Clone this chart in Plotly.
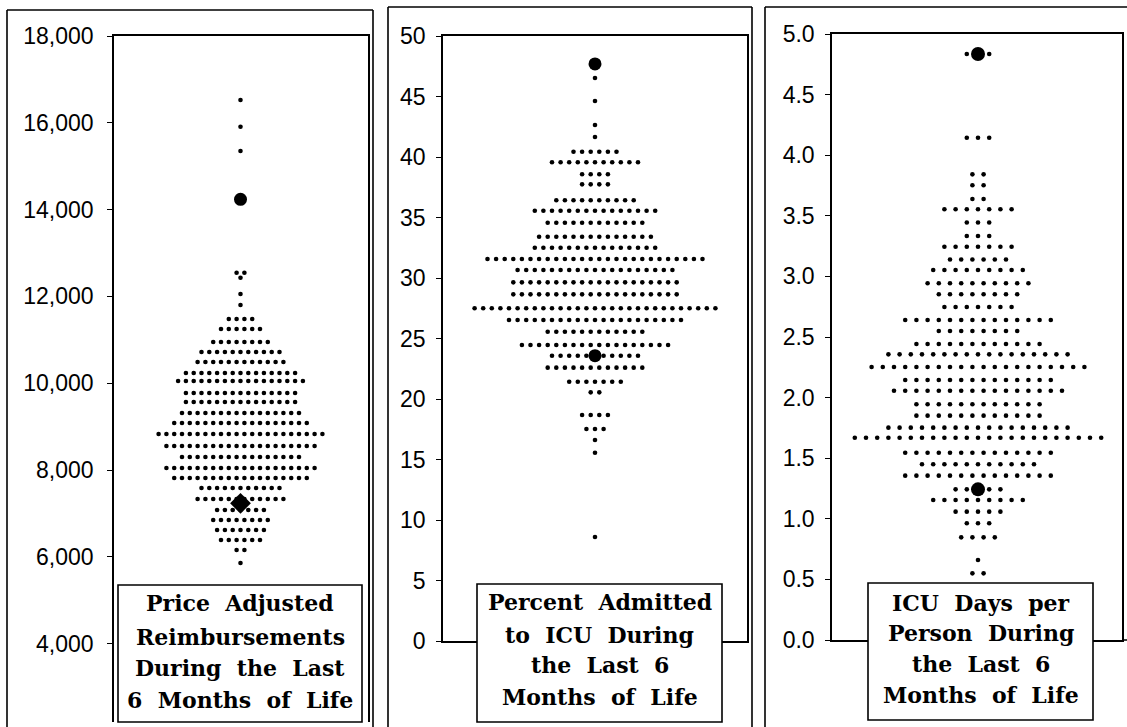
import plotly.graph_objects as go

# ---------------- data ----------------
# Panel 1: Price adjusted reimbursements (rows of dots: value, number of dots)
p1_values = [16525, 15910, 15350, 12546, 12431, 12055, 11802, 11480, 11249, 10950,
             10719, 10489, 10236, 10051, 9775, 9567, 9314, 9084, 8830, 8554,
             8300, 8047, 7817, 7586, 7333, 7079, 6849, 6619, 6388, 6158, 5858]
p1_counts = [1, 1, 1, 2, 1, 1, 1, 4, 6, 8,
             11, 12, 15, 17, 15, 15, 16, 18, 22, 20,
             16, 20, 18, 11, 12, 7, 8, 7, 6, 2, 1]
p1_big_circle = [14237]
p1_big_diamond = [7233]
p1_ticks = [4000, 6000, 8000, 10000, 12000, 14000, 16000, 18000]

# Panel 2: Percent admitted to ICU
p2_values = [46.53, 44.63, 42.64, 41.65, 40.44, 39.56, 38.57, 37.74, 36.42, 35.56,
             34.57, 33.41, 32.50, 31.57, 30.66, 29.64, 28.65, 27.50, 26.53, 25.56,
             24.46, 23.58, 22.59, 21.43, 20.55, 18.68, 17.52, 16.61, 15.56, 8.60]
p2_counts = [1, 1, 1, 1, 6, 11, 4, 4, 10, 15,
             12, 14, 15, 26, 19, 20, 20, 29, 21, 12,
             18, 11, 12, 7, 2, 4, 3, 1, 1, 1]
p2_big = [47.69, 23.58]
p2_ticks = [0, 5, 10, 15, 20, 25, 30, 35, 40, 45, 50]

# Panel 3: ICU days per person
p3_values = [4.835, 4.144, 3.842, 3.752, 3.639, 3.554, 3.445, 3.333, 3.245, 3.139,
             3.053, 2.943, 2.853, 2.747, 2.640, 2.549, 2.442, 2.357, 2.252, 2.145,
             2.057, 1.945, 1.851, 1.752, 1.669, 1.545, 1.450, 1.356, 1.243, 1.155,
             1.059, 0.963, 0.847, 0.660, 0.550]
p3_counts = [3, 3, 2, 2, 2, 7, 3, 3, 7, 6,
             9, 10, 8, 7, 14, 8, 12, 17, 20, 14,
             16, 12, 12, 17, 23, 14, 11, 14, 5, 9,
             5, 3, 4, 1, 2]
p3_big = [4.835, 1.243]
p3_ticks = [0.0, 0.5, 1.0, 1.5, 2.0, 2.5, 3.0, 3.5, 4.0, 4.5, 5.0]

labels = [
    ["Price  Adjusted", "Reimbursements", "During  the  Last", "6  Months  of  Life"],
    ["Percent  Admitted", "to  ICU  During", "the  Last  6", "Months  of  Life"],
    ["ICU  Days  per", "Person  During", "the  Last  6", "Months  of  Life"],
]

# ---------------- layout helpers ----------------
W, H = 1127, 727


def px_x(p):
    return p / W


def px_y(p):
    return 1 - p / H


def spread(values, counts, step):
    xs, ys = [], []
    for v, n in zip(values, counts):
        for i in range(n):
            xs.append((i - (n - 1) / 2) * step)
            ys.append(v)
    return xs, ys


fig = go.Figure()

panels = [
    dict(vals=p1_values, cnts=p1_counts, step=7.8, xd=(114, 368), yd=(722, 36),
         yr=(2194, 18000), center=240.5, ticks=p1_ticks, fmt=",d", standoff=9),
    dict(vals=p2_values, cnts=p2_counts, step=8.6, xd=(443, 747), yd=(641, 36),
         yr=(0, 50), center=595, ticks=p2_ticks, fmt="d", standoff=6),
    dict(vals=p3_values, cnts=p3_counts, step=11.2, xd=(832, 1122), yd=(640, 34),
         yr=(0, 5), center=978, ticks=p3_ticks, fmt=".1f", standoff=6),
]

layout = dict(width=W, height=H,
              margin=dict(l=0, r=0, t=0, b=0, pad=0, autoexpand=False),
              paper_bgcolor="white", plot_bgcolor="white", showlegend=False)

for k, p in enumerate(panels):
    idx = "" if k == 0 else str(k + 1)
    xs, ys = spread(p["vals"], p["cnts"], p["step"])
    fig.add_trace(go.Scatter(x=xs, y=ys, mode="markers", xaxis="x" + idx, yaxis="y" + idx,
                             marker=dict(size=4.6, color="black", line=dict(width=0)),
                             hoverinfo="skip"))
    x0, x1 = p["xd"]
    layout["xaxis" + idx] = dict(domain=[px_x(x0), px_x(x1)],
                                 range=[x0 - p["center"], x1 - p["center"]],
                                 showgrid=False, zeroline=False, showticklabels=False,
                                 ticks="", showline=True, linecolor="black", linewidth=1.5,
                                 mirror=(k != 0), side="top" if k == 0 else "bottom",
                                 anchor="y" + idx, fixedrange=True, automargin=False)
    ybot, ytop = p["yd"]
    layout["yaxis" + idx] = dict(domain=[px_y(ybot), px_y(ytop)], range=list(p["yr"]),
                                 showgrid=False, zeroline=False, showline=True,
                                 linecolor="black", linewidth=1.5, mirror=True,
                                 ticks="outside", ticklen=5, tickwidth=1.2, tickcolor="black",
                                 tickvals=p["ticks"], tickformat=p["fmt"],
                                 ticklabelstandoff=p["standoff"],
                                 tickfont=dict(family="Liberation Sans", size=23, color="black"),
                                 anchor="x" + idx, fixedrange=True, automargin=False)

# highlighted markers
fig.add_trace(go.Scatter(x=[0] * len(p1_big_circle), y=p1_big_circle, mode="markers",
                         xaxis="x", yaxis="y", hoverinfo="skip",
                         marker=dict(size=13, color="black", symbol="circle")))
fig.add_trace(go.Scatter(x=[0] * len(p1_big_diamond), y=p1_big_diamond, mode="markers",
                         xaxis="x", yaxis="y", hoverinfo="skip",
                         marker=dict(size=16, color="black", symbol="diamond")))
fig.add_trace(go.Scatter(x=[0] * len(p2_big), y=p2_big, mode="markers",
                         xaxis="x2", yaxis="y2", hoverinfo="skip",
                         marker=dict(size=13, color="black", symbol="circle")))
fig.add_trace(go.Scatter(x=[0] * len(p3_big), y=p3_big, mode="markers",
                         xaxis="x3", yaxis="y3", hoverinfo="skip",
                         marker=dict(size=14, color="black", symbol="circle")))

shapes = []
frame = dict(color="black", width=1.6)


def seg(xa, ya, xb, yb):
    return dict(type="line", xref="paper", yref="paper", x0=px_x(xa), x1=px_x(xb),
                y0=px_y(ya), y1=px_y(yb), line=frame, layer="above")


# outer panel frames (kept inside the page)
shapes += [seg(7, 10, 7, 727), seg(7, 10, 373, 10), seg(373, 10, 373, 727)]
shapes += [seg(388, 7, 388, 727), seg(388, 7, 752, 7), seg(752, 7, 752, 727)]
shapes += [seg(765, 7, 765, 727), seg(765, 7, 1127, 7)]
# extension of the 0.0 baseline in panel 3
shapes.append(dict(type="line", xref="paper", yref="paper", x0=px_x(1122), x1=1,
                   y0=px_y(640), y1=px_y(640), line=dict(color="black", width=1.5)))

# label boxes
boxes = [(118, 362, 585, 722), (477, 722, 584, 722), (868, 1093, 583, 720)]
line_y = [[603, 637, 668, 700], [602, 635, 665, 697], [603, 633, 664, 695]]
annotations = []
for (x0, x1, y0, y1), lines, ly in zip(boxes, labels, line_y):
    shapes.append(dict(type="rect", xref="paper", yref="paper",
                       x0=px_x(x0), x1=px_x(x1), y0=px_y(y1), y1=px_y(y0),
                       line=dict(color="black", width=1.6), fillcolor="white", layer="above"))
    for t, yy in zip(lines, ly):
        annotations.append(dict(xref="paper", yref="paper", x=px_x((x0 + x1) / 2), y=px_y(yy),
                                text=t, showarrow=False, xanchor="center", yanchor="middle",
                                font=dict(family="DejaVu Serif", size=22, color="black",
                                          weight="bold")))

layout["shapes"] = shapes
layout["annotations"] = annotations
fig.update_layout(**layout)

# pin the figure to the page's top-left corner so the page is exactly the figure
pin = ("document.documentElement.style.overflow='hidden';"
       "document.body.style.margin='0';document.body.style.overflow='hidden';"
       "var d=document.getElementById('{plot_id}');d.style.position='fixed';"
       "d.style.left='0px';d.style.top='0px';")
fig.write_html("out.html", post_script=pin, config={"displayModeBar": False})
